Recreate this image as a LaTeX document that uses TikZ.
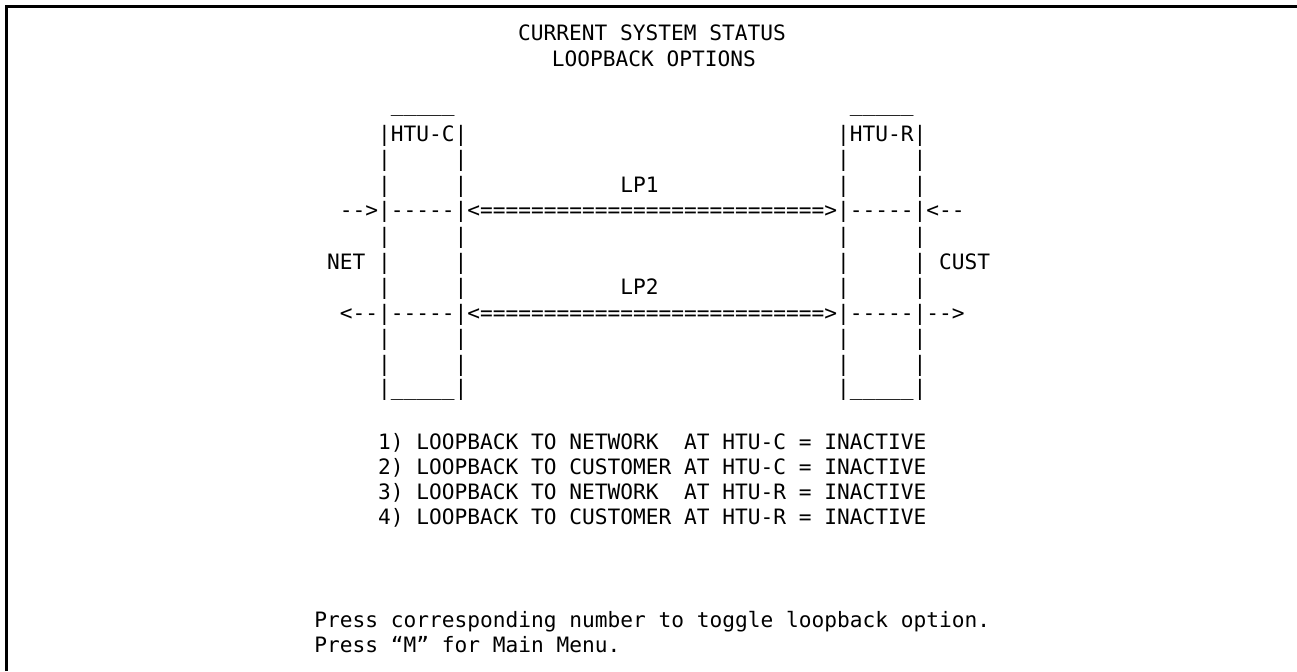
\documentclass[tikz,border=0pt]{standalone}
\usepackage{fontspec}
\newfontfamily\monofont{DejaVu Sans Mono}[Ligatures=TeXOff,WordSpace={1,0,0}]
\begin{document}
\begin{tikzpicture}[x=0.5pt,y=-0.5pt,
  txt/.style={inner sep=0pt,outer sep=0pt,anchor=base west,font=\monofont\fontsize{10.59}{12}\selectfont},
  ttl/.style={inner sep=0pt,outer sep=0pt,anchor=base,font=\monofont\fontsize{10.59}{12}\selectfont},
  frameline/.style={line width=1.5pt,black}]
\useasboundingbox (0,0) rectangle (1297,671);
\draw[frameline] (6.5,671) -- (6.5,6.5) -- (1297,6.5);
% title
\node[ttl] (t1) at (652,40) {CURRENT SYSTEM STATUS};
\node[ttl] (t2) at (654,66) {LOOPBACK OPTIONS};
% boxes
\node[txt] (c0) at (390.75,111) {\_\_\_\_\_};
\node[txt] (r0) at (849.75,111) {\_\_\_\_\_};
\node[txt] (c1) at (378,141) {|HTU-C|};
\node[txt] (r1) at (837,141) {|HTU-R|};
\node[txt] (c2) at (378,166.6) {|~~~~~|};
\node[txt] (r2) at (837,166.6) {|~~~~~|};
\node[txt] (c3) at (378,192.2) {|~~~~~|};
\node[txt] (lp1) at (620.25,192.2) {LP1};
\node[txt] (r3) at (837,192.2) {|~~~~~|};
\node[txt] (a1) at (339.75,217.8) {-->|-----|<===========================>|-----|<--};
\node[txt] (c5) at (378,243.4) {|~~~~~|};
\node[txt] (r5) at (837,243.4) {|~~~~~|};
\node[txt] (c6) at (327,269) {NET~|~~~~~|};
\node[txt] (r6) at (837,269) {|~~~~~|~CUST};
\node[txt] (c7) at (378,294.6) {|~~~~~|};
\node[txt] (lp2) at (620.25,294.6) {LP2};
\node[txt] (r7) at (837,294.6) {|~~~~~|};
\node[txt] (a2) at (339.75,320.2) {<--|-----|<===========================>|-----|-->};
\node[txt] (c9) at (378,345.8) {|~~~~~|};
\node[txt] (r9) at (837,345.8) {|~~~~~|};
\node[txt] (c10) at (378,371.4) {|~~~~~|};
\node[txt] (r10) at (837,371.4) {|~~~~~|};
\node[txt] (c11) at (378,395) {|\_\_\_\_\_|};
\node[txt] (r11) at (837,395) {|\_\_\_\_\_|};
% options
\node[txt] (o1) at (378,449) {1)~LOOPBACK~TO~NETWORK~~AT~HTU-C~=~INACTIVE};
\node[txt] (o2) at (378,474) {2)~LOOPBACK~TO~CUSTOMER~AT~HTU-C~=~INACTIVE};
\node[txt] (o3) at (378,499.5) {3)~LOOPBACK~TO~NETWORK~~AT~HTU-R~=~INACTIVE};
\node[txt] (o4) at (378,524.5) {4)~LOOPBACK~TO~CUSTOMER~AT~HTU-R~=~INACTIVE};
% prompts
\node[txt] (p1) at (314.25,627) {Press corresponding number to toggle loopback option.};
\node[txt] (p2) at (314.25,652) {Press “M” for Main Menu.};
\end{tikzpicture}
\end{document}
